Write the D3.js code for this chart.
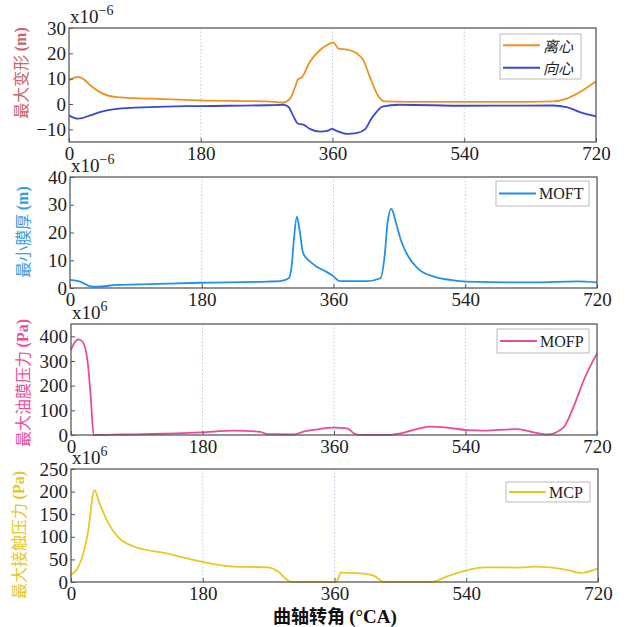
<!DOCTYPE html>
<html><head><meta charset="utf-8">
<script src="https://cdn.jsdelivr.net/npm/d3@7"></script>
<style>body{margin:0;background:#fff}svg{display:block}</style>
</head><body>
<svg id="c" width="627" height="627"></svg>
<script>
// ---- data ----
const xTicks = [0, 180, 360, 540, 720];

const ecAngle = [0,6,12,20,29,42,65,111,179,270,293,302,309,313,318,329,343,357,361,365,368,380,393,402,411,422,432,497,600,661,680,698,720];
const ecValue = [9.4,10.2,10.7,9.8,7.4,4.7,2.7,2.1,1.4,1.0,0.6,2.1,6.7,9.8,10.5,16.6,21.3,23.9,24.3,23.0,21.9,21.5,20.0,17.3,10.7,3.4,1.0,0.8,0.8,1.0,2.1,4.7,9.0];
const cpAngle = [0,12,29,42,65,111,179,270,293,300,306,313,320,329,343,354,359,365,380,393,405,413,420,428,451,542,661,680,698,720];
const cpValue = [-4.5,-5.8,-4.5,-3.2,-1.9,-1.2,-0.8,-0.5,-0.3,-1.2,-4.5,-7.8,-8.1,-9.8,-10.9,-10.5,-9.8,-10.5,-11.8,-11.5,-9.8,-5.8,-3.2,-1.0,-0.3,-0.7,-0.6,-1.2,-3.2,-4.9];

const moftAngle = [0,14,27,37,64,109,178,269,287,299,303,306,310,314,318,323,328,337,350,359,369,406,424,430,434,439,445,452,461,475,497,520,542,633,693,720];
const moftValue = [2.9,2.3,0.7,0.5,1.1,1.4,1.9,2.3,2.5,3.5,8.3,17.9,25.7,20.3,13.1,10.7,9.5,7.7,5.9,4.4,2.5,2.5,3.5,11.9,23.9,28.5,23.9,17.3,11.9,7.1,4.1,2.9,2.3,2.0,2.4,2.0];

const mofpAngle = [0,5,10,16,23,27,31,40,70,110,178,223,259,269,306,315,337,360,378,387,396,432,451,492,515,542,565,611,633,652,674,688,702,720];
const mofpValue = [345,375,388,378,290,155,0,0,2,4,11,18,13,3,2,11,23,30,27,7,0,0,7,34,30,20,18,24,11,2,30,115,223,331];

const mcpAngle = [0,14,23,32,39,50,64,87,132,178,223,269,283,296,301,361,362,369,396,415,427,492,515,542,565,611,633,679,697,720];
const mcpValue = [15.5,48.7,108,203,174,133,100,78,63,45,34,32.5,23,4,0,0,0,20.6,19,13,0,0,13,26.5,32.5,32,34,26.5,20,30];

const panels = [
  {top:28, bottom:142, left:69, right:596, domain:[-15,30], ticks:[-10,0,10,20,30], exp:"−6",
   label:"最大变形", unit:"(m)", labelColor:"#c9636c", labelY:73, labelX:20,
   series:[{name:"离心", x:ecAngle, y:ecValue, color:"#f0901e"},{name:"向心", x:cpAngle, y:cpValue, color:"#3b48d4"}],
   legend:{x:500,y:34,w:81,h:45,italic:true}},
  {top:177, bottom:288, left:70, right:597, domain:[0,40], ticks:[0,10,20,30,40], exp:"−6",
   label:"最小膜厚", unit:"(m)", labelColor:"#3a9ae0", labelY:232, labelX:22,
   series:[{name:"MOFT", x:moftAngle, y:moftValue, color:"#2290e8"}],
   legend:{x:496,y:181,w:93,h:25}},
  {top:324, bottom:435, left:71, right:597, domain:[0,450], ticks:[0,100,200,300,400], exp:"6",
   label:"最大油膜压力", unit:"(Pa)", labelColor:"#e8509e", labelY:383, labelX:22,
   series:[{name:"MOFP", x:mofpAngle, y:mofpValue, color:"#e84c9c"}],
   legend:{x:497,y:329,w:92,h:24}},
  {top:469, bottom:582, left:71, right:598, domain:[0,250], ticks:[0,50,100,150,200,250], exp:"6",
   label:"最大接触压力", unit:"(Pa)", labelColor:"#e6c62a", labelY:535, labelX:18,
   series:[{name:"MCP", x:mcpAngle, y:mcpValue, color:"#e8c822"}],
   legend:{x:506,y:482,w:84,h:20}}
];

const svg = d3.select("#c");
svg.append("rect").attr("width",627).attr("height",627).attr("fill","#fff");
const serif = "'Liberation Serif','Times New Roman',serif";
const cjk = "'Noto Sans CJK SC','Liberation Serif',serif";

panels.forEach(p => {
  const x = d3.scaleLinear().domain([0,720]).range([p.left,p.right]);
  const y = d3.scaleLinear().domain(p.domain).range([p.bottom,p.top]);
  const g = svg.append("g");
  // grid
  g.selectAll("line.grid").data([180,360,540]).enter().append("line")
    .attr("x1",d=>x(d)).attr("x2",d=>x(d)).attr("y1",p.top).attr("y2",p.bottom)
    .attr("stroke","#b9cde6").attr("stroke-width",1).attr("stroke-dasharray","1.5,2");
  // series
  p.series.forEach(s => {
    const pts = s.x.map((a,i)=>[a,s.y[i]]);
    g.append("path").datum(pts)
      .attr("d", d3.line().x(d=>x(d[0])).y(d=>y(d[1])).curve(d3.curveMonotoneX))
      .attr("fill","none").attr("stroke",s.color).attr("stroke-width",1.8);
  });
  // axes
  const xa = g.append("g").attr("transform",`translate(0,${p.bottom})`)
    .call(d3.axisBottom(x).tickValues(xTicks).tickSize(-4).tickPadding(8).tickFormat(d3.format("d")));
  const ya = g.append("g").attr("transform",`translate(${p.left},0)`)
    .call(d3.axisLeft(y).tickValues(p.ticks).tickSize(-4).tickPadding(3).tickFormat(d=>d<0?"−"+Math.abs(d):d));
  [xa,ya].forEach(a=>{
    a.attr("font-family",null).attr("font-size",null);
    a.select(".domain").remove();
    a.selectAll(".tick line").attr("stroke","#555");
    a.selectAll("text").style("font-family",serif).style("font-size","19px").attr("fill","#222");
  });
  xa.selectAll("text").attr("dy","0.55em");
  // frame
  g.append("rect").attr("x",p.left).attr("y",p.top).attr("width",p.right-p.left).attr("height",p.bottom-p.top)
    .attr("fill","none").attr("stroke","#5a5a5a").attr("stroke-width",1.3);
  // exponent
  const et = g.append("text").attr("x",p.left+1).attr("y",p.top-5)
    .style("font-family",serif).style("font-size","19px").attr("fill","#222");
  et.append("tspan").text("x10");
  et.append("tspan").attr("dy",-8).style("font-size","14px").text(p.exp);
  // y label
  const lt = g.append("text").attr("transform",`translate(${p.labelX},${p.labelY}) rotate(-90)`)
    .attr("text-anchor","middle").attr("dominant-baseline","central").attr("fill",p.labelColor);
  lt.append("tspan").style("font-family",cjk).style("font-size","16px").text(p.label+" ");
  lt.append("tspan").style("font-family",serif).style("font-size","16px").attr("font-weight","bold").text(p.unit);
  // legend
  const L = p.legend;
  g.append("rect").attr("x",L.x).attr("y",L.y).attr("width",L.w).attr("height",L.h)
    .attr("fill","#fff").attr("stroke","#bbb").attr("stroke-width",1);
  const rowH = L.h / p.series.length;
  p.series.forEach((s,i) => {
    const cy = L.y + rowH*(i+0.5);
    g.append("line").attr("x1",L.x+3).attr("x2",L.x+40).attr("y1",cy).attr("y2",cy)
      .attr("stroke",s.color).attr("stroke-width",1.8);
    g.append("text").attr("x",L.x+43).attr("y",cy).attr("dominant-baseline","central")
      .style("font-family", L.italic ? cjk : serif).style("font-size", L.italic ? "15px" : "16px")
      .attr("font-style", L.italic ? "italic" : "normal").attr("fill","#222").text(s.name);
  });
});

// x title
const xt = svg.append("text").attr("x",335).attr("y",623).attr("text-anchor","middle").attr("fill","#111");
xt.append("tspan").style("font-family",cjk).style("font-size","18px").attr("font-weight","bold").text("曲轴转角 ");
xt.append("tspan").style("font-family",serif).style("font-size","19px").attr("font-weight","bold").text("(°CA)");
</script>
</body></html>
